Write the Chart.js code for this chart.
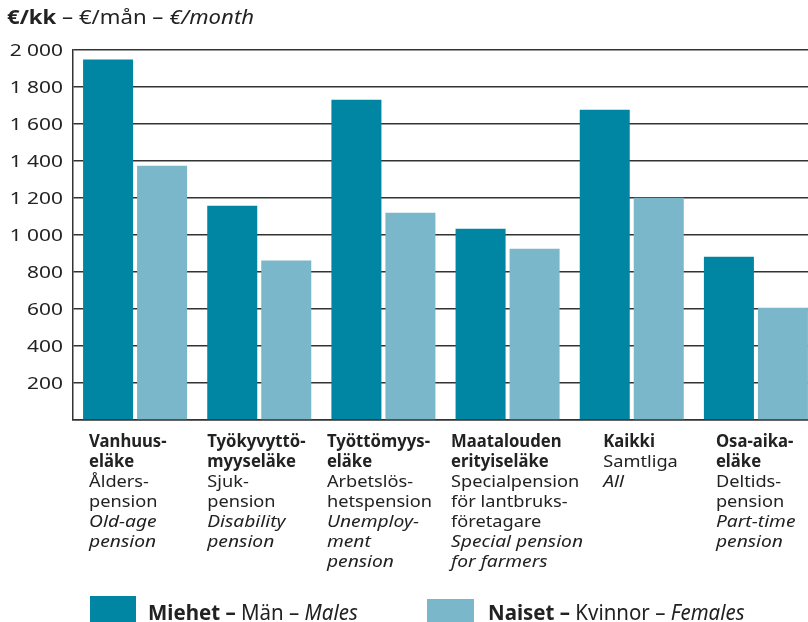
<!DOCTYPE html>
<html>
<head>
<meta charset="utf-8">
<script src="https://cdn.jsdelivr.net/npm/chart.js@4.4.0/dist/chart.umd.min.js"></script>
<style>
  html, body { margin: 0; padding: 0; background: #fff; overflow: hidden; width: 808px; height: 622px; }
  #wrap { position: relative; width: 820px; height: 622px; font-family: "Noto Sans", sans-serif; color: #222; }
  #title { position: absolute; left: 7px; top: 4px; font-size: 19px; white-space: nowrap; transform: scaleX(1.165); transform-origin: 0 0; }
  .leg { position: absolute; font-size: 21px; line-height: 21px; white-space: nowrap; transform: scaleX(0.975); transform-origin: 0 0; }
  .sw { position: absolute; }
  canvas { position: absolute; left: 0; top: 0; }
</style>
</head>
<body>
<div id="wrap">
  <canvas id="c" width="820" height="622"></canvas>
  <div id="title"><b>€/kk</b> – €/mån – <i>€/month</i></div>
</div>
<script>
// ---- data ----
const catFi = [["Vanhuus-", "eläke"], ["Työkyvyttö-", "myyseläke"], ["Työttömyys-", "eläke"], ["Maatalouden", "erityiseläke"], ["Kaikki"], ["Osa-aika-", "eläke"]];
const catSv = [["Ålders-", "pension"], ["Sjuk-", "pension"], ["Arbetslös-", "hetspension"], ["Specialpension", "för lantbruks-", "företagare"], ["Samtliga"], ["Deltids-", "pension"]];
const catEn = [["Old-age", "pension"], ["Disability", "pension"], ["Unemploy-", "ment", "pension"], ["Special pension", "for farmers"], ["All"], ["Part-time", "pension"]];
const males = [1948, 1158, 1731, 1034, 1677, 883];
const females = [1375, 862, 1120, 926, 1201, 607];
const seriesFi = ["Miehet", "Naiset"];
const seriesSv = ["Män", "Kvinnor"];
const seriesEn = ["Males", "Females"];
const yTicks = [0, 200, 400, 600, 800, 1000, 1200, 1400, 1600, 1800, 2000];

// ---- layout ----
const COLORS = ["#0086A3", "#7BB7CB"];
const FONT = '"Noto Sans", sans-serif';
const LABEL_OFFSETS = [-46, -52, -56.5, -56.5, -28.5, -40];

function fmt(v) { return v === 0 ? '' : String(v).replace(/\B(?=(\d{3})+(?!\d))/g, ' '); }

function drawScaled(ctx, text, x, y, sx, align) {
  ctx.save();
  ctx.translate(x, y);
  ctx.scale(sx, 1);
  ctx.textAlign = align;
  ctx.fillText(text, 0, 0);
  ctx.restore();
}

const labelPlugin = {
  id: 'customLabels',
  afterDraw(chart) {
    const ctx = chart.ctx;
    const xs = chart.scales.x;
    const ys = chart.scales.y;
    ctx.save();
    ctx.fillStyle = '#222';
    ctx.textBaseline = 'middle';
    // y tick labels
    ctx.font = '17px ' + FONT;
    yTicks.forEach(v => {
      const t = fmt(v);
      if (t) drawScaled(ctx, t, 63, ys.getPixelForValue(v) + 1.5, 1.23, 'right');
    });
    // category labels
    catFi.forEach((fi, i) => {
      const x = xs.getPixelForValue(i) + LABEL_OFFSETS[i];
      let y = 442;
      const lines = [];
      fi.forEach(t => lines.push([t, 'bold 17px ' + FONT, 0.98]));
      catSv[i].forEach(t => lines.push([t, '17px ' + FONT, 1.07]));
      catEn[i].forEach(t => lines.push([t, 'italic 17px ' + FONT, 1.13]));
      lines.forEach(([t, f, sx]) => {
        ctx.font = f;
        drawScaled(ctx, t, x, y, sx, 'left');
        y += 20;
      });
    });
    ctx.restore();
  }
};

const ctx = document.getElementById('c').getContext('2d');
new Chart(ctx, {
  type: 'bar',
  data: {
    labels: catFi.map(a => a.join(' ')),
    datasets: [
      { label: seriesFi[0], data: males, backgroundColor: COLORS[0], categoryPercentage: 0.87, barPercentage: 0.926 },
      { label: seriesFi[1], data: females, backgroundColor: COLORS[1], categoryPercentage: 0.87, barPercentage: 0.926 }
    ]
  },
  options: {
    responsive: false,
    animation: false,
    layout: { padding: { left: 0, right: 2, top: 50, bottom: 202 } },
    plugins: { legend: { display: false }, tooltip: { enabled: false }, title: { display: false } },
    scales: {
      x: {
        grid: { display: false, drawTicks: false },
        border: { display: true, color: '#333', width: 1.5 },
        ticks: { display: false },
        afterFit(s) { s.height = 0; }
      },
      y: {
        min: 0, max: 2000,
        afterBuildTicks(s) { s.ticks = yTicks.map(v => ({ value: v })); },
        afterFit(s) { s.width = 73; },
        grid: { color: '#333', lineWidth: 1.5, drawTicks: false },
        border: { display: true, color: '#333', width: 1.5 },
        ticks: { display: false, callback: fmt }
      }
    }
  },
  plugins: [labelPlugin]
});

// HTML legend built from series arrays
const wrap = document.getElementById('wrap');
const legPos = [{ sx: 90, sy: 596, w: 46, tx: 148 }, { sx: 427, sy: 599, w: 47, tx: 488 }];
seriesFi.forEach((name, i) => {
  const sw = document.createElement('div');
  sw.className = 'sw';
  sw.style.cssText = `left:${legPos[i].sx}px;top:${legPos[i].sy}px;width:${legPos[i].w}px;height:30px;background:${COLORS[i]}`;
  wrap.appendChild(sw);
  const t = document.createElement('div');
  t.className = 'leg';
  t.style.left = legPos[i].tx + 'px';
  t.style.top = '602px';
  t.innerHTML = `<b>${name} –</b> ${seriesSv[i]} – <i>${seriesEn[i]}</i>`;
  wrap.appendChild(t);
});
</script>
</body>
</html>
